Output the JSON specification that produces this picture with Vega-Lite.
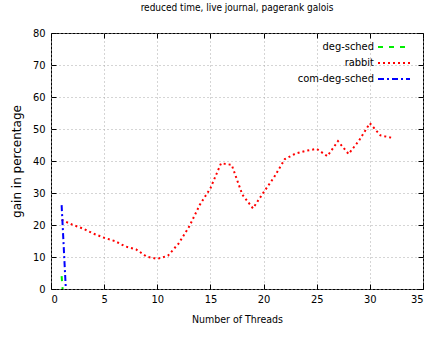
{
  "$schema": "https://vega.github.io/schema/vega-lite/v6.json",
  "width": 372,
  "height": 256,
  "autosize": {"type": "none"},
  "padding": {"left": 51, "top": 33, "right": 6, "bottom": 48},
  "background": "white",
  "title": {
    "text": "reduced time, live journal, pagerank galois",
    "font": "DejaVu Sans Condensed",
    "fontSize": 10,
    "fontWeight": "normal",
    "color": "#000",
    "anchor": "middle",
    "offset": 14
  },
  "config": {
    "view": {"stroke": "#000", "strokeWidth": 1},
    "axis": {
      "labelFont": "DejaVu Sans Condensed",
      "labelFontSize": 11,
      "labelColor": "#000",
      "titleFont": "DejaVu Sans Condensed",
      "titleFontSize": 10.5,
      "titleFontWeight": "normal",
      "titleColor": "#000",
      "domain": false,
      "tickColor": "#000",
      "tickSize": -5,
      "gridColor": "#aaa",
      "gridDash": [1, 3],
      "gridWidth": 1
    }
  },
  "data": {
    "values": [
      {"threads": 1, "gain": 4, "series": "deg-sched"},
      {"threads": 2, "gain": -40, "series": "deg-sched"},
      {"threads": 1, "gain": 21.6, "series": "rabbit"},
      {"threads": 2, "gain": 20.1, "series": "rabbit"},
      {"threads": 3, "gain": 18.9, "series": "rabbit"},
      {"threads": 4, "gain": 17.3, "series": "rabbit"},
      {"threads": 5, "gain": 16, "series": "rabbit"},
      {"threads": 6, "gain": 15, "series": "rabbit"},
      {"threads": 7, "gain": 13.3, "series": "rabbit"},
      {"threads": 8, "gain": 12.4, "series": "rabbit"},
      {"threads": 9, "gain": 10.1, "series": "rabbit"},
      {"threads": 10, "gain": 9.4, "series": "rabbit"},
      {"threads": 11, "gain": 10.4, "series": "rabbit"},
      {"threads": 12, "gain": 14.2, "series": "rabbit"},
      {"threads": 13, "gain": 19.5, "series": "rabbit"},
      {"threads": 14, "gain": 26.3, "series": "rabbit"},
      {"threads": 15, "gain": 31.5, "series": "rabbit"},
      {"threads": 16, "gain": 39.3, "series": "rabbit"},
      {"threads": 17, "gain": 38.8, "series": "rabbit"},
      {"threads": 18, "gain": 29.5, "series": "rabbit"},
      {"threads": 19, "gain": 25.2, "series": "rabbit"},
      {"threads": 20, "gain": 30.2, "series": "rabbit"},
      {"threads": 21, "gain": 35, "series": "rabbit"},
      {"threads": 22, "gain": 40.6, "series": "rabbit"},
      {"threads": 23, "gain": 42.3, "series": "rabbit"},
      {"threads": 24, "gain": 43.2, "series": "rabbit"},
      {"threads": 25, "gain": 43.8, "series": "rabbit"},
      {"threads": 26, "gain": 41.5, "series": "rabbit"},
      {"threads": 27, "gain": 46.2, "series": "rabbit"},
      {"threads": 28, "gain": 42.2, "series": "rabbit"},
      {"threads": 29, "gain": 46.5, "series": "rabbit"},
      {"threads": 30, "gain": 51.8, "series": "rabbit"},
      {"threads": 31, "gain": 48, "series": "rabbit"},
      {"threads": 32, "gain": 47.3, "series": "rabbit"},
      {"threads": 1, "gain": 26.2, "series": "com-deg-sched"},
      {"threads": 2, "gain": -40, "series": "com-deg-sched"}
    ]
  },
  "layer": [
    {
      "mark": {"type": "line", "strokeWidth": 2, "clip": true},
      "encoding": {
        "x": {
          "field": "threads", "type": "quantitative",
          "scale": {"domain": [0, 35], "nice": false},
          "axis": {"values": [0, 5, 10, 15, 20, 25, 30, 35], "title": "Number of Threads", "labelPadding": 9, "titlePadding": 10, "grid": true}
        },
        "y": {
          "field": "gain", "type": "quantitative",
          "scale": {"domain": [0, 80], "nice": false},
          "axis": {"values": [0, 10, 20, 30, 40, 50, 60, 70, 80], "title": "gain in percentage", "titleFont": "DejaVu Sans", "titleFontSize": 12, "labelPadding": 11, "titlePadding": 9, "grid": true}
        },
        "color": {
          "field": "series", "type": "nominal",
          "scale": {"domain": ["deg-sched", "rabbit", "com-deg-sched"], "range": ["#00ee00", "#ff0000", "#0000ff"]},
          "legend": {
            "title": null,
            "orient": "none",
            "legendX": 337,
            "legendY": 8,
            "symbolType": "M-3.2,0H3.2",
            "symbolSize": 100,
            "symbolStrokeWidth": 2,
            "labelAlign": "right",
            "labelOffset": -26,
            "labelFont": "DejaVu Sans Condensed",
            "labelFontSize": 11,
            "labelColor": "#000",
            "rowPadding": 5,
            "padding": 0
          }
        },
        "strokeDash": {
          "field": "series", "type": "nominal",
          "scale": {"domain": ["deg-sched", "rabbit", "com-deg-sched"], "range": [[5, 6], [2, 3], [6, 3, 2, 3]]},
          "legend": {
            "title": null,
            "orient": "none",
            "legendX": 337,
            "legendY": 8,
            "symbolType": "M-3.2,0H3.2",
            "symbolSize": 100,
            "symbolStrokeWidth": 2,
            "labelAlign": "right",
            "labelOffset": -26,
            "labelFont": "DejaVu Sans Condensed",
            "labelFontSize": 11,
            "labelColor": "#000",
            "rowPadding": 5,
            "padding": 0
          }
        }
      }
    },
    {
      "mark": {"type": "point", "opacity": 0},
      "encoding": {
        "x": {
          "field": "threads", "type": "quantitative",
          "axis": {"orient": "top", "values": [0, 5, 10, 15, 20, 25, 30, 35], "labels": false, "title": null, "grid": false}
        },
        "y": {
          "field": "gain", "type": "quantitative",
          "axis": {"orient": "right", "values": [0, 10, 20, 30, 40, 50, 60, 70, 80], "labels": false, "title": null, "grid": false}
        }
      }
    }
  ],
  "resolve": {"axis": {"x": "independent", "y": "independent"}}
}
